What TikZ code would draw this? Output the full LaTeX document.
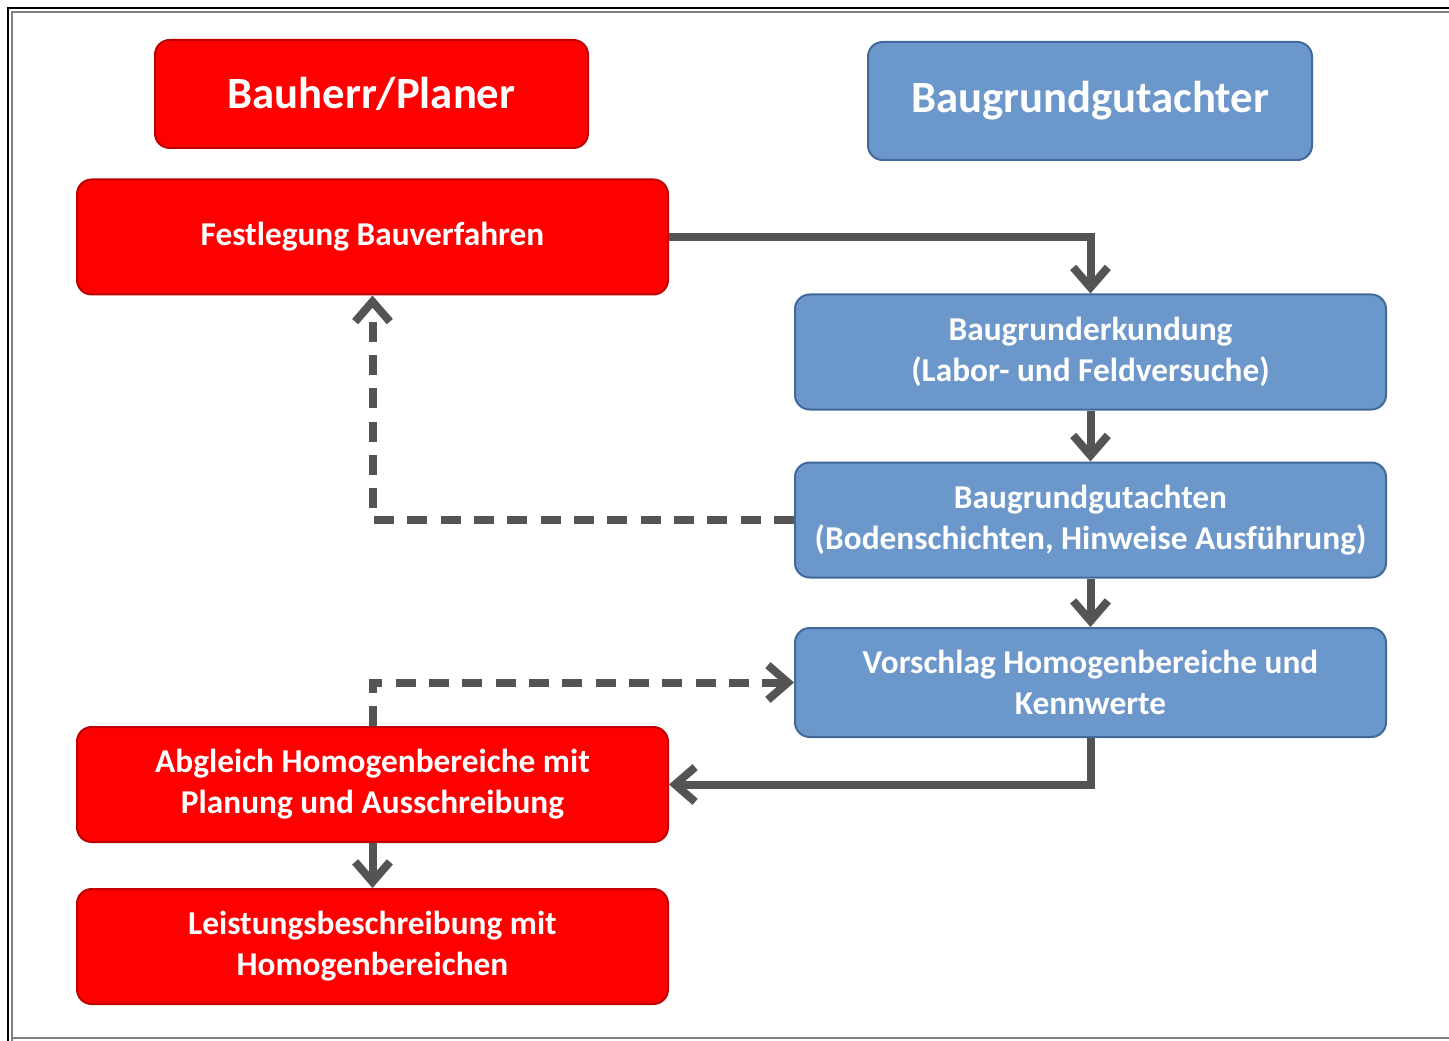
\documentclass[tikz,border=0pt]{standalone}
\usepackage{fontspec}
\setmainfont{Carlito}
\usetikzlibrary{arrows.meta,positioning}
\definecolor{redfill}{HTML}{FF0000}
\definecolor{redline}{HTML}{C00000}
\definecolor{bluefill}{HTML}{6C97CB}
\definecolor{blueline}{HTML}{41699A}
\definecolor{arrowgray}{HTML}{545454}
\tikzset{
  redbox/.style={draw=redline, line width=1.5pt, fill=redfill, rounded corners=11pt, text=white, font=\bfseries\fontsize{25}{30.75}\selectfont, align=center, inner sep=0pt},
  bluebox/.style={draw=blueline, line width=1.5pt, fill=bluefill, rounded corners=11pt, text=white, font=\bfseries\fontsize{25}{30.75}\selectfont, align=center, inner sep=0pt},
  conn/.style={draw=arrowgray, line width=6pt, -{Straight Barb[length=15pt,width=26pt,line width=6pt]}},
  dconn/.style={conn, dash pattern=on 15pt off 10pt}
}
\begin{document}
\begin{tikzpicture}[x=0.75pt,y=-0.75pt]
\useasboundingbox (0,0) rectangle (1449,1041);
\fill[white] (0,0) rectangle (1449,1041);
% frame
\draw[black, line width=2pt] (8,1041) -- (8,8) -- (1449,8);
\draw[gray, line width=1.5pt] (12,1041) -- (12,12) -- (1449,12);
\draw[gray, line width=1.5pt] (12,1038) -- (1449,1038);
% boxes
\node[redbox, minimum width=433*0.75pt, minimum height=108*0.75pt, font=\bfseries\fontsize{33.5}{38}\selectfont] (bp) at (371.5,94) {Bauherr/Planer};
\node[bluebox, minimum width=444*0.75pt, minimum height=118*0.75pt, font=\bfseries\fontsize{33.5}{38}\selectfont] (bg) at (1090,101) {Baugrundgutachter};
\node[redbox, minimum width=591*0.75pt, minimum height=115*0.75pt] (fb) at (372.5,237) {Festlegung Bauverfahren};
\node[bluebox, minimum width=591*0.75pt, minimum height=115*0.75pt] (be) at (1090.5,352) {Baugrunderkundung\\(Labor- und Feldversuche)};
\node[bluebox, minimum width=591*0.75pt, minimum height=115*0.75pt] (bga) at (1090.5,520) {Baugrundgutachten\\(Bodenschichten, Hinweise Ausführung)};
\node[bluebox, minimum width=591*0.75pt, minimum height=109*0.75pt] (vh) at (1090.5,682.5) {Vorschlag Homogenbereiche und\\Kennwerte};
\node[redbox, minimum width=591*0.75pt, minimum height=115*0.75pt] (ah) at (372.5,784.5) {Abgleich Homogenbereiche mit\\Planung und Ausschreibung};
\node[redbox, minimum width=591*0.75pt, minimum height=115*0.75pt] (lb) at (372.5,946.5) {Leistungsbeschreibung mit\\Homogenbereichen};
% connectors
\coordinate (c1) at (be.north |- fb.east);
\draw[conn] (fb.east) -- (c1) -- (be.north);
\draw[conn] (be.south) -- (bga.north);
\draw[conn] (bga.south) -- (vh.north);
\coordinate (c2) at (fb.south |- bga.west);
\draw[dconn] (bga.west) -- (c2) -- (fb.south);
\coordinate (c3) at (ah.north |- vh.west);
\draw[dconn] (ah.north) -- (c3) -- (vh.west);
\coordinate (c4) at (vh.south |- ah.east);
\draw[conn] (vh.south) -- (c4) -- (ah.east);
\draw[conn] (ah.south) -- (lb.north);
\end{tikzpicture}
\end{document}
